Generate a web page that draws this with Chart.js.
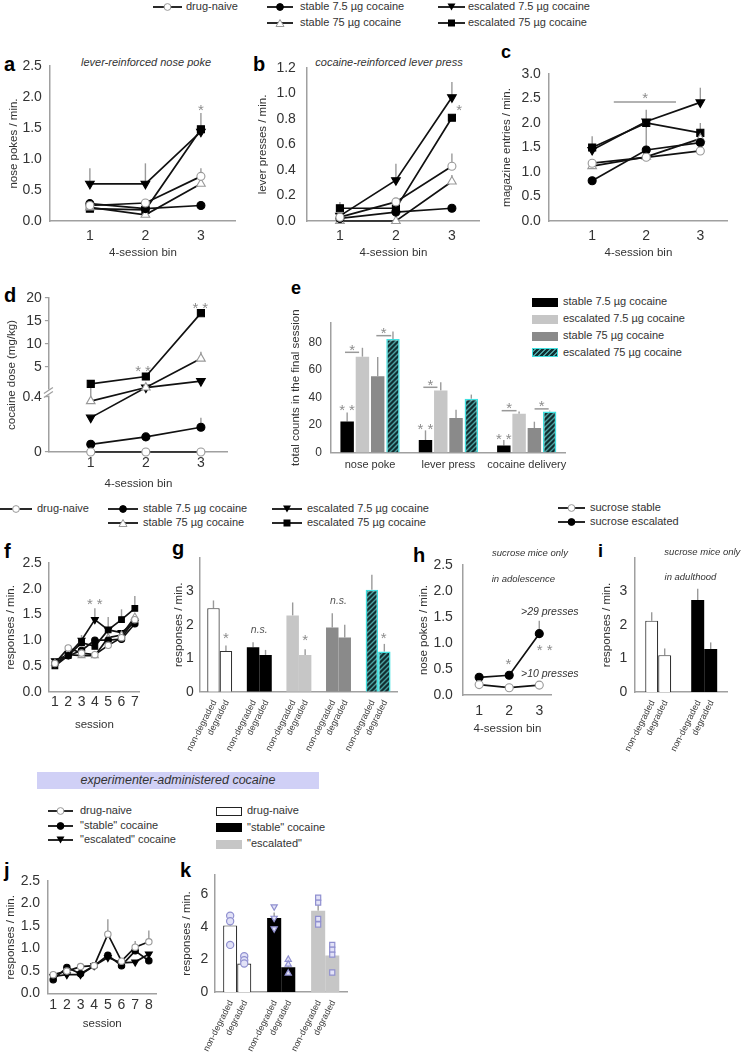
<!DOCTYPE html>
<html>
<head>
<meta charset="utf-8">
<title>cocaine escalation figure</title>
<script src="https://cdn.jsdelivr.net/npm/chart.js@4.4.1/dist/chart.umd.min.js"></script>
<style>
  body { margin: 0; width: 741px; height: 1053px; position: relative; background: #fff; overflow: hidden;
         font-family: "Liberation Sans", Arial, sans-serif; color: #333; }
  canvas { position: absolute; }
</style>
</head>
<body>
<script>
// ---- values ----
const binX = [1, 2, 3];

// a  lever-reinforced nose poke
const aNaive = [0.25, 0.29, 0.72], aNaiveErr = [0, 0, 0.13];
const aSt7 = [0.28, 0.2, 0.25];
const aSt75 = [0.22, 0.1, 0.6], aSt75Err = [0, 0, 0.07];
const aEs7 = [0.6, 0.6, 1.44], aEs7Err = [0.25, 0.33, 0];
const aEs75 = [0.2, 0.18, 1.48], aEs75Err = [0, 0, 0.26];

// b  cocaine-reinforced lever press
const bNaive = [0.03, 0.15, 0.43], bNaiveErr = [0, 0, 0.1];
const bSt7 = [0.02, 0.07, 0.1];
const bSt75 = [0.0, 0.0, 0.31], bSt75Err = [0, 0, 0.05];
const bEs7 = [0.04, 0.32, 0.97], bEs7Err = [0, 0.13, 0.12];
const bEs75 = [0.1, 0.1, 0.81], bEs75Err = [0.05, 0, 0];

// c  magazine entries
const cNaive = [1.18, 1.3, 1.43];
const cSt7 = [0.82, 1.45, 1.6], cSt7Err = [0, 0.52, 0];
const cSt75 = [1.12, 1.31, 1.68];
const cEs7 = [1.45, 2.03, 2.42], cEs7Err = [0.28, 0, 0.3];
const cEs75 = [1.5, 2.0, 1.8], cEs75Err = [0, 0.27, 0.2];

// d  cocaine dose (mg/kg), broken axis
const dNaive = [0, 0, 0];
const dSt7 = [0.056, 0.11, 0.18], dSt7Err = [0, 0, 0.07];
const dSt75 = [0.37, 0.5, 6.8], dSt75Err = [0.08, 0, 1.5];
const dEs7 = [0.25, 0.5, 1.9];
const dEs75 = [1.3, 2.9, 16.7];
const dTickVals = [0, 0.4, 5, 10, 15, 20];
const dTickLabels = ['0', '0.4', '5', '10', '15', '20'];

// e  totals in the final session
const eCats = ['nose poke', 'lever press', 'cocaine delivery'];
const eSt7 = [22.5, 9, 5], eSt7Err = [6.5, 7, 4];
const eEs7 = [69.5, 45, 28], eEs7Err = [6.5, 6, 1.8];
const eSt75 = [55.3, 25, 17.7], eSt75Err = [14, 6, 4.6];
const eEs75 = [82.4, 39, 29.8], eEs75Err = [5.5, 3, 0.5];

// f  sessions of degradation training
const sessF = [1, 2, 3, 4, 5, 6, 7];
const fNaive = [0.55, 0.85, 0.75, 0.72, 0.9, 1.05, 1.4];
const fSt7 = [0.55, 0.7, 0.8, 1.0, 1.0, 1.02, 1.32];
const fSt75 = [0.55, 0.72, 0.7, 0.7, 1.05, 1.1, 1.45];
const fEs7 = [0.6, 0.72, 1.0, 1.4, 1.2, 1.15, 1.35], fEs7Err = [0, 0, 0.1, 0.22, 0.25, 0, 0];
const fEs75 = [0.5, 0.7, 0.95, 0.88, 1.2, 1.4, 1.62], fEs75Err = [0, 0, 0, 0.15, 0, 0.2, 0.24];

// g  non-degraded vs degraded
const gGroups = ['drug-naive', 'stable 7.5 µg', 'escalated 7.5 µg', 'stable 75 µg', 'escalated 75 µg'];
const gNon = [2.5, 1.33, 2.28, 1.92, 3.05], gNonErr = [0.23, 0.15, 0.39, 0.43, 0.45];
const gDeg = [1.22, 1.1, 1.1, 1.62, 1.2], gDegErr = [0.16, 0.15, 0.17, 0.38, 0.23];

// h  sucrose mice, adolescence
const hStable = [0.2, 0.14, 0.19];
const hEsc = [0.34, 0.38, 1.18], hEscErr = [0, 0, 0.25];

// i  sucrose mice, adulthood
const iGroups = ['sucrose stable', 'sucrose escalated'];
const iNon = [2.13, 2.75], iNonErr = [0.25, 0.33];
const iDeg = [1.1, 1.28], iDegErr = [0.2, 0.2];

// j  experimenter-administered cocaine
const sessJ = [1, 2, 3, 4, 5, 6, 7, 8];
const jNaive = [0.42, 0.5, 0.6, 0.62, 1.32, 0.72, 1.03, 1.15], jNaiveErr = [0, 0, 0, 0, 0.33, 0, 0.14, 0.25];
const jSt = [0.31, 0.58, 0.44, 0.62, 0.85, 0.62, 0.95, 0.73];
const jEs = [0.38, 0.42, 0.42, 0.62, 0.8, 0.68, 0.7, 0.88];

// k
const kGroups = ['drug-naive', '"stable" cocaine', '"escalated"'];
const kNon = [4.1, 4.55, 5.0], kNonErr = [0.2, 0.35, 0.42];
const kDeg = [1.75, 1.52, 2.24], kDegErr = [0.2, 0.15, 0.3];
const kPtsNon = [[4.7, 4.35, 2.9], [5.25, 4.55, 3.9], [5.8, 5.5, 4.5, 4.15]];
const kPtsDeg = [[2.2, 1.95, 1.75], [2.0, 1.7, 1.15], [2.9, 2.6, 2.3, 1.2]];

// ---- look ----
const FF = '"Liberation Sans", Arial, sans-serif';
const AX = '#a0a0a0';
const TX = '#333';
Chart.defaults.font.family = FF;

const ST = {
  naive: {ps: 'circle', r: 4, bg: '#fff', bc: '#999'},
  st7: {ps: 'circle', r: 4, bg: '#000', bc: '#000'},
  st75: {ps: 'triangle', r: 5, bg: '#fff', bc: '#999'},
  es7: {ps: 'triangle', r: 5, rot: 180, bg: '#000', bc: '#000'},
  es75: {ps: 'rect', r: 5, bg: '#000', bc: '#000'}
};

function hatch() {
  const c = document.createElement('canvas');
  c.width = c.height = 5;
  const x = c.getContext('2d');
  x.fillStyle = '#112e30'; x.fillRect(0, 0, 5, 5);
  x.strokeStyle = '#4aa0a0'; x.lineWidth = 1.4;
  x.beginPath();
  x.moveTo(0, 5); x.lineTo(5, 0);
  x.moveTo(-1, 1); x.lineTo(1, -1);
  x.moveTo(4, 6); x.lineTo(6, 4);
  x.stroke();
  return x.createPattern(c, 'repeat');
}
const HATCH = hatch();
const CYAN = '#3fe0e0';

// ---- plugins ----
const errBars = {
  id: 'errBars',
  beforeDatasetsDraw(c) {
    const ctx = c.ctx, ys = c.scales.y;
    c.data.datasets.forEach((d, i) => {
      if (!d.errs) return;
      c.getDatasetMeta(i).data.forEach((el, j) => {
        const e = d.errs[j];
        if (!e) return;
        const raw = d.data[j], v = typeof raw === 'number' ? raw : raw.y;
        ctx.save();
        ctx.strokeStyle = '#9a9a9a'; ctx.lineWidth = 1.4;
        ctx.beginPath();
        ctx.moveTo(el.x, ys.getPixelForValue(v));
        ctx.lineTo(el.x, ys.getPixelForValue(v + e));
        ctx.stroke();
        ctx.restore();
      });
    });
  }
};

function notes(items) {
  return {
    id: 'notes',
    afterDatasetsDraw(c) {
      const ctx = c.ctx, xs = c.scales.x, ys = c.scales.y;
      items.forEach(n => {
        ctx.save();
        if (n.line) {
          const y = ys.getPixelForValue(n.y);
          ctx.strokeStyle = '#999'; ctx.lineWidth = 1.5;
          ctx.beginPath();
          ctx.moveTo(xs.getPixelForValue(n.line[0]), y);
          ctx.lineTo(xs.getPixelForValue(n.line[1]), y);
          ctx.stroke();
        } else if (n.it) {
          ctx.font = 'italic ' + (n.size || 9.5) + 'px ' + FF;
          ctx.fillStyle = n.c || TX;
          ctx.textAlign = 'center'; ctx.textBaseline = 'middle';
          ctx.fillText(n.t, xs.getPixelForValue(n.x), ys.getPixelForValue(n.y));
        } else {
          // asterisks: y is the centre of the glyph
          const s = 15, sp = n.t.length > 1 ? 4 : 0;
          ctx.font = s + 'px ' + FF;
          ctx.letterSpacing = sp + 'px';
          ctx.fillStyle = '#8c8c8c';
          ctx.textAlign = 'center'; ctx.textBaseline = 'alphabetic';
          ctx.fillText(n.t, xs.getPixelForValue(n.x) + sp / 2, ys.getPixelForValue(n.y) + 0.6 * s);
        }
        ctx.restore();
      });
    }
  };
}

const rotLabels = {
  id: 'rotLabels',
  afterDraw(c) {
    const ctx = c.ctx, y0 = c.scales.x.top;
    c.data.datasets.forEach((d, i) => {
      const meta = c.getDatasetMeta(i);
      meta.data.forEach(el => {
        ctx.save();
        ctx.translate(el.x + 1, y0 + 9);
        ctx.rotate(-63 * Math.PI / 180);
        ctx.font = '9px ' + FF; ctx.fillStyle = TX;
        ctx.textAlign = 'right'; ctx.textBaseline = 'middle';
        ctx.fillText(d.label, 0, 0);
        ctx.restore();
      });
    });
  }
};

// individual animals drawn on top of their bar (sets[dataset][category] = values)
function barDots(sets, styles) {
  return {
    id: 'barDots',
    afterDatasetsDraw(c) {
      const ctx = c.ctx, ys = c.scales.y;
      sets.forEach((grp, di) => {
        const meta = c.getDatasetMeta(di);
        grp.forEach((vals, ci) => {
          const el = meta.data[ci], st = styles[di][ci];
          vals.forEach(v => {
            ctx.save();
            ctx.fillStyle = '#e2e2f7'; ctx.strokeStyle = '#9090d0'; ctx.lineWidth = 1.2;
            Chart.helpers.drawPoint(ctx, {pointStyle: st.ps, radius: 3.6, rotation: st.rot || 0, borderWidth: 1.2},
              el.x, ys.getPixelForValue(v));
            ctx.restore();
          });
        });
      });
    }
  };
}

const axisBreak = {
  id: 'axisBreak',
  afterDraw(c) {
    const ctx = c.ctx, x = c.chartArea.left, y = c.scales.y.getPixelForValue(59.5);
    ctx.save();
    ctx.fillStyle = '#fff'; ctx.fillRect(x - 3, y - 3, 6, 6);
    ctx.strokeStyle = AX; ctx.lineWidth = 1.3;
    ctx.beginPath();
    ctx.moveTo(x - 5, y + 1); ctx.lineTo(x + 4, y - 5);
    ctx.moveTo(x - 5, y + 5); ctx.lineTo(x + 4, y - 1);
    ctx.stroke();
    ctx.restore();
  }
};

// ---- layout helpers ----
function place(P) {
  const PT = 40;
  const YW = P.l - P.yc + 6.9;
  const XH = P.xc ? P.xc - P.b + 6.9 : (P.xh || 60);
  const W = Math.ceil(YW + P.r - P.l + (P.pr || 12)), H = Math.ceil(PT + P.b - P.t + XH);
  const cv = document.createElement('canvas');
  cv.width = W; cv.height = H;
  cv.style.left = (P.l - YW) + 'px'; cv.style.top = (P.t - PT) + 'px';
  cv.style.width = W + 'px'; cv.style.height = H + 'px';
  document.body.appendChild(cv);
  return {cv, YW, XH, PT, PR: W - YW - (P.r - P.l), PB: H - PT - (P.b - P.t) - XH};
}

function baseOpts(g) {
  return {
    responsive: false, maintainAspectRatio: false, animation: false, devicePixelRatio: 1, events: [],
    layout: {autoPadding: false, padding: {top: g.PT, right: g.PR, bottom: g.PB, left: 0}},
    plugins: {legend: {display: false}, tooltip: {enabled: false}}
  };
}

function yAxis(P, YW) {
  return {
    type: 'linear', min: 0, max: P.ymax,
    afterBuildTicks: s => { s.ticks = P.yticks.map(v => ({value: v})); },
    afterFit: s => { s.width = YW; },
    grid: P.ymarks ? {display: true, drawOnChartArea: false, drawTicks: true, tickLength: 4, color: AX, lineWidth: 1.2}
                   : {display: false, drawTicks: false},
    border: {display: true, color: AX, width: 1.5},
    ticks: {color: TX, padding: P.ypad, font: {size: P.yfs || 14},
            callback: P.ylab || (v => v.toFixed(P.ydec || 0))},
    title: {display: true, text: P.ytitle, color: TX, padding: 0, font: {size: 11.5, lineHeight: 1.2}}
  };
}

function xLin(P, XH) {
  return {
    type: 'linear', min: P.xmin, max: P.xmax,
    afterBuildTicks: s => { s.ticks = P.xticks.map(v => ({value: v})); },
    afterFit: s => { s.height = XH; },
    grid: {display: false, drawTicks: false},
    border: {display: true, color: AX, width: 1.5},
    ticks: {color: TX, padding: P.xpad, autoSkip: false, maxRotation: 0, font: {size: 14}, callback: v => String(v)},
    title: {display: true, text: P.xtitle, color: TX, padding: 0, font: {size: 11.5, lineHeight: 1.2}}
  };
}

function xCat(P, XH) {
  return {
    type: 'category', offset: true,
    afterFit: s => { s.height = XH; },
    grid: {display: false, drawTicks: false},
    border: {display: true, color: AX, width: 1.5},
    ticks: {display: !!P.xfs, color: TX, padding: P.xpad || 0, autoSkip: false, maxRotation: 0, minRotation: 0,
            font: {size: P.xfs || 11}}
  };
}

function ser(xs, ys, st, errs, k) {
  k = k || 1;
  return {
    data: xs.map((x, i) => ({x: x, y: ys[i]})), errs: errs,
    borderColor: '#111', borderWidth: 1.7, tension: 0, clip: false,
    pointStyle: st.ps, pointRotation: st.rot || 0, pointRadius: st.r * k,
    pointBackgroundColor: st.bg, pointBorderColor: st.bc, pointBorderWidth: 1.1
  };
}

function linePanel(P, datasets, items, extra) {
  const g = place(P);
  const o = baseOpts(g);
  o.scales = {x: xLin(P, g.XH), y: yAxis(P, g.YW)};
  new Chart(g.cv, {type: 'line', data: {datasets}, options: o,
    plugins: [errBars, notes(items || [])].concat(extra || [])});
}

function barPanel(P, labels, datasets, items, extra) {
  const g = place(P);
  const o = baseOpts(g);
  datasets.forEach(d => { d.categoryPercentage = P.cp; d.barPercentage = P.bp || 1; });
  o.scales = {x: xCat(P, g.XH), y: yAxis(P, g.YW)};
  new Chart(g.cv, {type: 'bar', data: {labels, datasets}, options: o,
    plugins: [errBars, notes(items || [])].concat(extra || [])});
}

// html text helpers
function txt(x, y, s, size, css) {
  size = size || 11;
  const d = document.createElement('div');
  d.textContent = s;
  d.style.cssText = 'position:absolute;white-space:nowrap;left:' + x + 'px;top:' + (y - size * 0.6) + 'px;font-size:' + size +
    'px;line-height:' + (size * 1.2) + 'px;color:' + TX + ';' + (css || '');
  document.body.appendChild(d);
}
function letter(ch, x, base, size) {
  size = size || 20;
  const d = document.createElement('div');
  d.textContent = ch;
  d.style.cssText = 'position:absolute;left:' + x + 'px;top:' + (base - 0.9465 * size) + 'px;font-size:' + size +
    'px;line-height:' + (size * 1.2) + 'px;font-weight:bold;color:#000';
  document.body.appendChild(d);
}
function mark(x1, x2, y, st) {
  const w = x2 - x1, cx = w / 2;
  let g;
  if (st.ps === 'circle') g = '<circle cx="' + cx + '" cy="6" r="3.4" fill="' + st.bg + '" stroke="' + st.bc + '" stroke-width="1"/>';
  else if (st.ps === 'rect') g = '<rect x="' + (cx - 3.5) + '" y="2.5" width="7" height="7" fill="#000"/>';
  else if (st.rot) g = '<polygon points="' + (cx - 4) + ',2.5 ' + (cx + 4) + ',2.5 ' + cx + ',9.5" fill="#000"/>';
  else g = '<polygon points="' + (cx - 4) + ',9.5 ' + (cx + 4) + ',9.5 ' + cx + ',2.5" fill="#fff" stroke="#999"/>';
  const d = document.createElement('div');
  d.style.cssText = 'position:absolute;line-height:0;left:' + x1 + 'px;top:' + (y - 6) + 'px';
  d.innerHTML = '<svg width="' + w + '" height="12"><line x1="0" y1="6" x2="' + w + '" y2="6" stroke="#111" stroke-width="1.8"/>' + g + '</svg>';
  document.body.appendChild(d);
}
function box(x, y, w, h, css) {
  const d = document.createElement('div');
  d.style.cssText = 'position:absolute;box-sizing:border-box;left:' + x + 'px;top:' + (y - h / 2) + 'px;width:' + w + 'px;height:' + h + 'px;' + css;
  document.body.appendChild(d);
}

// ---- legends, letters, titles ----
mark(153, 182, 7, ST.naive); txt(186, 7, 'drug-naive');
mark(267, 293, 7, ST.st7); txt(300, 7, 'stable 7.5 µg cocaine');
mark(267, 293, 23, ST.st75); txt(300, 23, 'stable 75 µg cocaine');
mark(438, 465, 7, ST.es7); txt(468, 7, 'escalated 7.5 µg cocaine');
mark(438, 465, 23, ST.es75); txt(468, 23, 'escalated 75 µg cocaine');

letter('a', 4, 71); letter('b', 253, 71); letter('c', 501, 59, 18);
letter('d', 4, 302); letter('e', 291, 295, 18);
letter('f', 4, 558); letter('g', 172, 555); letter('h', 413, 562); letter('i', 598, 558, 18);
letter('j', 4, 877); letter('k', 180, 877);

txt(146, 63, 'lever-reinforced nose poke', 11, 'font-style:italic;transform:translateX(-50%)');
txt(389, 63, 'cocaine-reinforced lever press', 11, 'font-style:italic;transform:translateX(-50%)');

box(532, 302, 26, 9, 'background:#000');
box(532, 319, 26, 9, 'background:#c6c6c6');
box(532, 336, 26, 9, 'background:#8a8a8a');
box(532, 352.5, 26, 9, 'border:1.5px solid ' + CYAN + ';background:repeating-linear-gradient(-45deg,#112e30 0 2px,#4aa0a0 2px 3.5px)');
txt(563, 302, 'stable 7.5 µg cocaine');
txt(563, 319, 'escalated 7.5 µg cocaine');
txt(563, 336, 'stable 75 µg cocaine');
txt(563, 352.5, 'escalated 75 µg cocaine');

mark(0, 32, 509, ST.naive); txt(37, 509, 'drug-naive');
mark(108, 138, 509, ST.st7); txt(143, 509, 'stable 7.5 µg cocaine');
mark(108, 138, 523, ST.st75); txt(143, 523, 'stable 75 µg cocaine');
mark(272, 302, 509, ST.es7); txt(307, 509, 'escalated 7.5 µg cocaine');
mark(272, 302, 523, ST.es75); txt(307, 523, 'escalated 75 µg cocaine');
mark(558, 585, 508, ST.naive); txt(590, 508, 'sucrose stable');
mark(558, 585, 522, ST.st7); txt(590, 522, 'sucrose escalated');

txt(37, 781, 'experimenter-administered cocaine', 12.5,
  'width:282px;height:17px;line-height:17px;top:772px;background:#d0d0f6;text-align:center;font-style:italic');

mark(48, 73, 811, ST.naive); txt(80, 811, 'drug-naive');
mark(48, 73, 826, ST.st7); txt(80, 826, '"stable" cocaine');
mark(48, 73, 839.5, ST.es7); txt(80, 839.5, '"escalated" cocaine');
box(216, 811, 26, 9, 'border:1.2px solid #222;background:#fff');
box(216, 827.5, 26, 9, 'background:#000');
box(216, 844, 26, 9, 'background:#c6c6c6');
txt(247, 811, kGroups[0]);
txt(247, 827.5, kGroups[1]);
txt(247, 844, kGroups[2]);

// ---- panels ----
const tick25 = [0, 0.5, 1, 1.5, 2, 2.5];

// a
linePanel({l: 50, r: 236, t: 66, b: 221, yc: 14, xc: 253, xmin: 0.28, xmax: 3.63, xticks: binX, xpad: 6.6,
  ymax: 2.5, yticks: tick25, ydec: 1, ypad: 8, ytitle: 'nose pokes / min.', xtitle: '4-session bin'},
  [ser(binX, aNaive, ST.naive, aNaiveErr), ser(binX, aSt7, ST.st7), ser(binX, aSt75, ST.st75, aSt75Err),
   ser(binX, aEs7, ST.es7, aEs7Err), ser(binX, aEs75, ST.es75, aEs75Err)],
  [{x: 3, y: 1.86, t: '*'}]);

// b
linePanel({l: 307, r: 480, t: 68, b: 221, yc: 263, xc: 253, xmin: 0.41, xmax: 3.5, xticks: binX, xpad: 6.6,
  ymax: 1.2, yticks: [0, 0.2, 0.4, 0.6, 0.8, 1.0, 1.2], ydec: 1, ypad: 11, ytitle: 'lever presses / min.', xtitle: '4-session bin'},
  [ser(binX, bNaive, ST.naive, bNaiveErr), ser(binX, bSt7, ST.st7), ser(binX, bSt75, ST.st75, bSt75Err),
   ser(binX, bEs7, ST.es7, bEs7Err), ser(binX, bEs75, ST.es75, bEs75Err)],
  [{x: 3.13, y: 0.9, t: '*'}]);

// c
linePanel({l: 549, r: 728, t: 74, b: 221, yc: 507, xc: 253, xmin: 0.2, xmax: 3.51, xticks: binX, xpad: 6.6,
  ymax: 3, yticks: [0, 0.5, 1, 1.5, 2, 2.5, 3], ydec: 1, ypad: 8, ytitle: 'magazine entries / min.', xtitle: '4-session bin'},
  [ser(binX, cNaive, ST.naive), ser(binX, cSt7, ST.st7, cSt7Err), ser(binX, cSt75, ST.st75),
   ser(binX, cEs7, ST.es7, cEs7Err), ser(binX, cEs75, ST.es75, cEs75Err)],
  [{line: [1.4, 2.55], y: 2.43}, {x: 1.98, y: 2.6, t: '*'}]);

// d  (broken axis: 0-0.4 below the break, 0.4-20 above it)
const dTf = v => v <= 0.4 ? v / 0.4 * 55 : 64 + (v - 0.4) / 19.6 * 90;
const dErr = (vals, errs) => vals.map((v, i) => dTf(v + errs[i]) - dTf(v));
linePanel({l: 49, r: 228, t: 298, b: 452, yc: 12, xc: 484, xmin: 0.24, xmax: 3.49, xticks: binX, xpad: 2.6,
  ymax: 154, yticks: dTickVals.map(dTf), ylab: (v, i) => dTickLabels[i], ymarks: true, ypad: 3,
  ytitle: 'cocaine dose (mg/kg)', xtitle: '4-session bin'},
  [ser(binX, dNaive.map(dTf), ST.naive), ser(binX, dSt7.map(dTf), ST.st7, dErr(dSt7, dSt7Err)),
   ser(binX, dSt75.map(dTf), ST.st75, dErr(dSt75, dSt75Err)), ser(binX, dEs7.map(dTf), ST.es7),
   ser(binX, dEs75.map(dTf), ST.es75)],
  [{x: 1.95, y: 85, t: '**'}, {x: 2.99, y: 148.5, t: '**'}],
  [axisBreak]);

// e
barPanel({l: 331, r: 566, t: 323.3, b: 452.7, yc: 296, xh: 25, xfs: 11, xpad: 5.5, cp: 0.78, bp: 0.88,
  ymax: 94, yticks: [0, 20, 40, 60, 80], yfs: 12, ypad: 9, ytitle: 'total counts in the final session'},
  eCats,
  [{label: 'stable 7.5 µg cocaine', data: eSt7, errs: eSt7Err, backgroundColor: '#000'},
   {label: 'escalated 7.5 µg cocaine', data: eEs7, errs: eEs7Err, backgroundColor: '#c6c6c6'},
   {label: 'stable 75 µg cocaine', data: eSt75, errs: eSt75Err, backgroundColor: '#8a8a8a'},
   {label: 'escalated 75 µg cocaine', data: eEs75, errs: eEs75Err, backgroundColor: HATCH, borderColor: CYAN, borderWidth: 1.5}],
  [{x: -0.293, y: 34, t: '**'}, {line: [-0.32, -0.14], y: 72.7}, {x: -0.23, y: 77.5, t: '*'},
   {line: [0.08, 0.27], y: 84.8}, {x: 0.175, y: 89.5, t: '*'},
   {x: 0.707, y: 20, t: '**'}, {line: [0.68, 0.86], y: 47.3}, {x: 0.77, y: 52, t: '*'},
   {x: 1.707, y: 13, t: '**'}, {line: [1.68, 1.87], y: 30.3}, {x: 1.775, y: 35, t: '*'},
   {line: [2.1, 2.28], y: 31.6}, {x: 2.19, y: 36.3, t: '*'}]);

// f
linePanel({l: 49, r: 140, t: 563.3, b: 692, yc: 11, xc: 725, xmin: 0.55, xmax: 7.38, xticks: sessF, xpad: 1.6,
  ymax: 2.5, yticks: tick25, ydec: 1, ypad: 7, ytitle: 'responses / min.', xtitle: 'session'},
  [ser(sessF, fNaive, ST.naive, null, 0.8), ser(sessF, fSt7, ST.st7, null, 0.8), ser(sessF, fSt75, ST.st75, null, 0.8),
   ser(sessF, fEs7, ST.es7, fEs7Err, 0.8), ser(sessF, fEs75, ST.es75, fEs75Err, 0.8)],
  [{x: 4, y: 1.79, t: '**'}]);

// g
const gPal = ['#fff', '#000', '#c6c6c6', '#8a8a8a', HATCH];
const gEdge = ['#333', '#000', '#c6c6c6', '#8a8a8a', CYAN];
const gBw = [1.2, 0, 0, 0, 1.5];
barPanel({l: 200, r: 398, t: 558, b: 691.7, yc: 179, cp: 0.63,
  ymax: 4, yticks: [0, 1, 2, 3], ypad: 6, ytitle: 'responses / min.'},
  gGroups,
  [{label: 'non-degraded', data: gNon, errs: gNonErr, backgroundColor: gPal, borderColor: gEdge, borderWidth: gBw},
   {label: 'degraded', data: gDeg, errs: gDegErr, backgroundColor: gPal, borderColor: gEdge, borderWidth: gBw}],
  [{x: 0.16, y: 1.72, t: '*'}, {x: 1, y: 1.85, t: 'n.s.', it: 1, size: 10.5, c: '#555'},
   {x: 2.16, y: 1.68, t: '*'}, {x: 3, y: 2.7, t: 'n.s.', it: 1, size: 10.5, c: '#555'}, {x: 4.14, y: 1.72, t: '*'}],
  [rotLabels]);

// h
linePanel({l: 463, r: 552, t: 565, b: 695, yc: 424, xc: 729, pr: 40, xmin: 0.46, xmax: 3.42, xticks: binX, xpad: 7.6,
  ymax: 2.5, yticks: tick25, ydec: 1, ypad: 10, ytitle: 'nose pokes / min.', xtitle: '4-session bin'},
  [ser(binX, hStable, ST.naive), ser(binX, hEsc, ST.st7, hEscErr)],
  [{x: 2.69, y: 2.72, t: 'sucrose mice only', it: 1}, {x: 2.47, y: 2.23, t: 'in adolescence', it: 1},
   {x: 3.35, y: 1.6, t: '>29 presses', it: 1, size: 10.5}, {x: 3.35, y: 0.41, t: '>10 presses', it: 1, size: 10.5},
   {x: 1.97, y: 0.68, t: '*'}, {x: 3.18, y: 0.94, t: '**'}]);

// i
barPanel({l: 635, r: 727, t: 558.3, b: 692.3, yc: 606.7, pr: 14, cp: 0.565,
  ymax: 4, yticks: [0, 1, 2, 3], ypad: 8, ytitle: 'responses / min.'},
  iGroups,
  [{label: 'non-degraded', data: iNon, errs: iNonErr, backgroundColor: ['#fff', '#000'], borderColor: ['#333', '#000'], borderWidth: [1.2, 0]},
   {label: 'degraded', data: iDeg, errs: iDegErr, backgroundColor: ['#fff', '#000'], borderColor: ['#333', '#000'], borderWidth: [1.2, 0]}],
  [{x: 0.96, y: 4.17, t: 'sucrose mice only', it: 1}, {x: 0.7, y: 3.42, t: 'in adulthood', it: 1}],
  [rotLabels]);

// j
linePanel({l: 47.7, r: 157, t: 880.7, b: 993.3, yc: 11, xc: 1024, xmin: 0.59, xmax: 8.59, xticks: sessJ, xpad: 3.3,
  ymax: 2.5, yticks: tick25, ydec: 1, ypad: 7.5, ytitle: 'responses / min.', xtitle: 'session'},
  [ser(sessJ, jNaive, ST.naive, jNaiveErr, 0.8), ser(sessJ, jSt, ST.st7, null, 0.8), ser(sessJ, jEs, ST.es7, null, 0.8)]);

// k
const kPal = ['#fff', '#000', '#c6c6c6'];
const kEdge = ['#333', '#000', '#c6c6c6'];
const kBw = [1.2, 0, 0];
const kDotStyles = [[ST.naive, ST.es7, ST.es75], [ST.naive, ST.st75, ST.es75]];
barPanel({l: 215, r: 347, t: 875.3, b: 992.3, yc: 186.7, cp: 0.64,
  ymax: 7.2, yticks: [0, 2, 4, 6], ypad: 7, ytitle: 'responses / min.'},
  kGroups,
  [{label: 'non-degraded', data: kNon, errs: kNonErr, backgroundColor: kPal, borderColor: kEdge, borderWidth: kBw},
   {label: 'degraded', data: kDeg, errs: kDegErr, backgroundColor: kPal, borderColor: kEdge, borderWidth: kBw}],
  [], [rotLabels, barDots([kPtsNon, kPtsDeg], kDotStyles)]);
</script>
</body>
</html>
